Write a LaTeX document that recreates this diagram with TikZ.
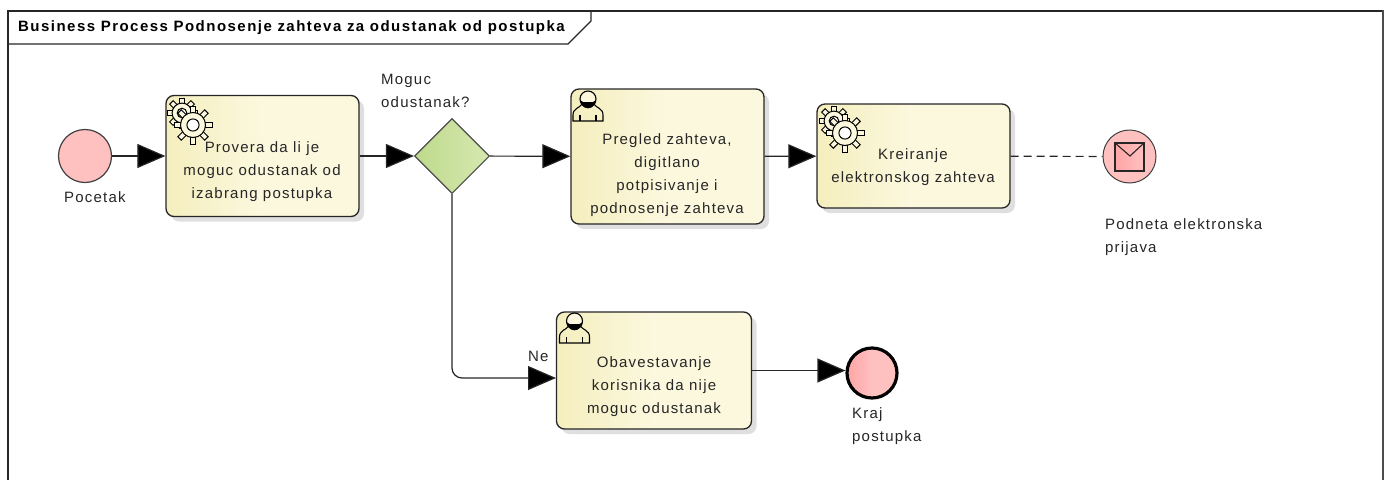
\documentclass[tikz,border=0pt]{standalone}
\usepackage{fontspec}
\setmainfont[LetterSpace=8]{Liberation Sans}
\newfontfamily\titlefont[LetterSpace=9.8]{Liberation Sans}
\usetikzlibrary{arrows.meta,shadows,shapes.geometric}
\definecolor{taskleft}{RGB}{245,238,190}
\definecolor{taskright}{RGB}{251,248,222}
\definecolor{eventfill}{RGB}{255,192,192}
\definecolor{eventleft}{RGB}{255,165,165}
\definecolor{gateleft}{RGB}{190,218,140}
\definecolor{gateright}{RGB}{214,232,176}
\tikzset{
    task/.style={draw=black!85,line width=1.3pt,rounded corners=8pt,left color=taskleft,right color=taskright,middle color=taskright,
        drop shadow={shadow xshift=5pt,shadow yshift=-5pt,fill=black!25},inner sep=0pt},
    tasktext/.style={align=center,inner sep=0pt,font=\fontsize{15}{23}\selectfont,text=black!85},
    flow/.style={draw=black!85,line width=1.2pt,-{Triangle[length=28pt,width=24pt,fill=black]}},
    plainlabel/.style={align=left,anchor=north west,inner sep=0pt,font=\fontsize{15}{23}\selectfont,text=black!85},
    event/.style={circle,draw=black!75,line width=1.2pt,fill=eventfill,inner sep=0pt,minimum size=53pt}
}
\newcommand{\usericon}[1]{
    \begin{scope}[shift={(#1)},line width=1.1pt]
        \draw (-15,30) -- (-15,24) .. controls (-15,17) and (-8,17) .. (-6,13) .. controls (-3,18) and (3,18) .. (6,13) .. controls (8,17) and (15,17) .. (15,24) -- (15,30) -- cycle;
        \draw (-8,24) -- (-8,30) (8,24) -- (8,30);
        \draw[fill=taskright] (0,8) circle (8);
        \fill (-8,9) arc (180:0:8) -- (5,11) -- (-5,11) -- cycle;
    \end{scope}
}
\newcommand{\gearone}[3]{
    \foreach \ang in {0,45,...,315}
        \draw[line width=1pt,fill=taskright,rotate around={\ang:(#1,#2)}] (#1-2.5,#2-#3*0.6) -- (#1-2.5,#2-#3) -- (#1+2.5,#2-#3) -- (#1+2.5,#2-#3*0.6);
    \draw[line width=1pt,fill=taskright] (#1,#2) circle (#3*0.66);
    \draw[line width=1pt,fill=white] (#1,#2) circle (#3*0.32);
}
\newcommand{\gearicon}[1]{
    \begin{scope}[shift={(#1)}]
        \gearone{16}{17}{15}
        \gearone{27}{29}{19}
    \end{scope}
}
\begin{document}
\begin{tikzpicture}[x=1pt,y=-1pt]
    \useasboundingbox (0,0) rectangle (1387,480);

    % frame
    \draw[draw=black!85,line width=1.2pt] (8,480) -- (8,11) -- (1383,11);
    \draw[draw=black!70,line width=2.4pt] (1383,10) -- (1383,480);
    \draw[draw=black!85,line width=1.2pt] (8,44) -- (568,44) -- (591,21) -- (591,11);
    \node[anchor=west,inner sep=0pt,font=\fontsize{15}{15}\titlefont\bfseries] (title) at (18,28) {Business Process Podnosenje zahteva za odustanak od postupka};

    % tasks
    \node[task,minimum width=193pt,minimum height=121pt] (provera) at (262.5,156) {};
    \node[task,minimum width=193pt,minimum height=135pt] (pregled) at (667.5,156.5) {};
    \node[task,minimum width=193pt,minimum height=104pt] (kreiranje) at (913.5,156) {};
    \node[task,minimum width=195pt,minimum height=117pt] (obavest) at (654,370.5) {};
    \coordinate (obavestin) at (556,378);

    % events
    \node[event] (pocetak) at (85,156) {};
    \node[event,line width=1pt] (prijava) at (1129.5,156.5) {};
    \node[event,line width=3.2pt,draw=black,minimum size=50pt,left color=eventleft,right color=eventfill,middle color=eventfill] (kraj) at (872,373) {};
    \node[diamond,aspect=1,draw=black!70,line width=1.1pt,left color=gateleft,right color=gateright,inner sep=0pt,minimum size=75pt] (odluka) at (452,156) {};

    % envelope
    \draw[line width=1.1pt,draw=black!85,left color=eventleft,right color=eventfill] (1115,143) rectangle (1144,171);
    \draw[line width=1.1pt,draw=black!85] (1115,143) -- (1130,156) -- (1144,143);

    % icons
    \gearicon{166,96}
    \gearicon{818,104}
    \usericon{588,91}
    \usericon{574.5,313}

    % task text
    \node[tasktext] at (262,172) {Provera da li je\\moguc odustanak od\\izabrang postupka};
    \node[tasktext] at (667,175.5) {Pregled zahteva,\\digitlano\\potpisivanje i\\podnosenje zahteva};
    \node[tasktext] at (913,167) {Kreiranje\\elektronskog zahteva};
    \node[tasktext] at (654,386.5) {Obavestavanje\\korisnika da nije\\moguc odustanak};

    % labels
    \node[plainlabel] at (64,191) {Pocetak};
    \node[plainlabel] at (381,74) {Moguc\\odustanak?};
    \node[plainlabel] at (1105,218) {Podneta elektronska\\prijava};
    \node[plainlabel] at (528,351) {Ne};
    \node[plainlabel] at (852,407) {Kraj\\postupka};

    % flows
    \draw[flow] (pocetak) -- (provera);
    \draw[flow] (provera) -- (odluka);
    \draw[flow] (odluka) -- (pregled);
    \draw[flow] (pregled) -- (kreiranje);
    \draw[flow] (obavest) -- (obavest -| kraj.west);
    \draw[flow,rounded corners=10pt] (odluka.south) |- (obavestin);
    \draw[draw=black!85,line width=1.2pt,dash pattern=on 8pt off 5pt] (kreiranje) -- (prijava);
\end{tikzpicture}
\end{document}
